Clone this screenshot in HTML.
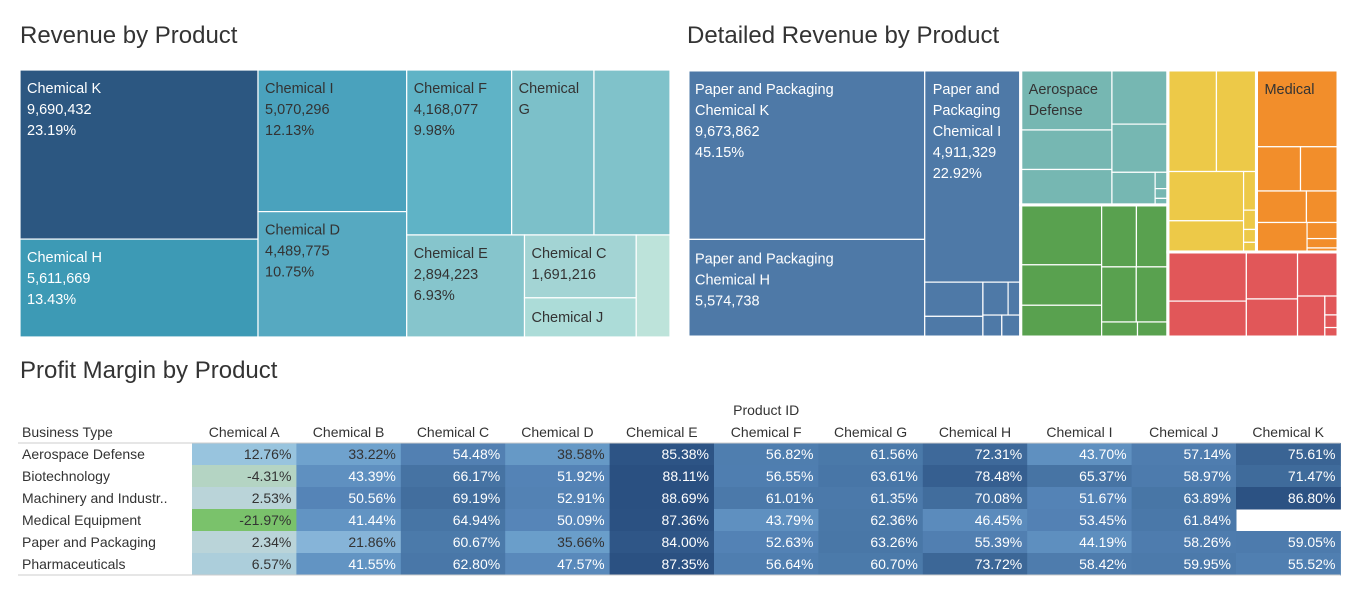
<!DOCTYPE html>
<html><head><meta charset="utf-8">
<style>
body{margin:0;width:1356px;height:608px;background:#fff;font-family:"Liberation Sans",sans-serif;overflow:hidden;position:relative}
.title{position:absolute;font-size:24px;color:#333;}
svg{position:absolute;left:0;top:0}
</style></head><body>
<div class="title" style="left:20px;top:22px">Revenue by Product</div>
<div class="title" style="left:687px;top:22px">Detailed Revenue by Product</div>
<div class="title" style="left:20px;top:357px">Profit Margin by Product</div>
<svg id="chart" width="1356" height="608"></svg>
<script>
// ---- Left treemap data ----
const leftNames=["Chemical K","Chemical H","Chemical I","Chemical D","Chemical F","Chemical G","Chemical B","Chemical E","Chemical C","Chemical J","Chemical A"];
const leftValues=[9690432,5611669,5070296,4489775,4168077,3270000,3020000,2894223,1691216,1054000,830000];
const leftPct=["23.19%","13.43%","12.13%","10.75%","9.98%","","","6.93%","","",""];
const leftColors=["#2c5781","#3d9ab5","#4aa2bd","#56a9c1","#5fb3c6","#7cc0c9","#80c2ca","#86c5cc","#a3d4d4","#acdcd8","#bde3da"];
const leftTree=['h',['v',0,1],['v',2,3],['v',['h',4,5,6],['h',7,['v',8,9],10]]];

// ---- Right treemap data (values in millions) ----
const rightValues=[9.674,5.575,4.911, 0.48,0.29,0.2,0.1,0.1,0.1,
 1.32,0.87,0.78,0.73,0.65,0.34,0.05,0.03,0.02,
 1.17,0.79,0.62,0.52,0.47,0.46,0.42,0.13,0.11,
 1.19,0.98,0.9,0.57,0.12,0.06,0.04,0.03,
 1.51,0.47,0.40,0.38,0.24,0.36,0.12,0.07,0.03,
 0.93,0.68,0.58,0.47,0.43,0.27,0.06,0.04,0.03];
const rightGroupColors={blue:"#4e79a7",teal:"#76b7b2",green:"#59a14f",yellow:"#edc948",orange:"#f28e2b",red:"#e15759"};
const rightGroupOf=[..."bbbbbbbbb"].map(()=> "blue").concat(Array(9).fill("teal"),Array(9).fill("green"),Array(8).fill("yellow"),Array(9).fill("orange"),Array(9).fill("red"));
const blueT=['h',['v',0,1],['v',2,['h',['v',3,4],['v',['h',5,6],['h',7,8]]]]];
const tealT=['h',['v',9,10,11],['v',12,13,['h',14,['v',15,16,17]]]];
const greenT=['h',['v',18,19,20],['v',['h',21,22],['h',23,24],['h',25,26]]];
const yellowT=['v',['h',27,28],['h',['v',29,30],['v',31,32,33,34]]];
const orangeT=['v',35,['h',36,37],['h',38,39],['h',40,['v',41,42,43]]];
const redT=['h',['v',44,45],['v',46,47],['v',48,['h',49,['v',50,51,52]]]];
const rightTree=['h',blueT,['v',tealT,greenT],['v',['h',yellowT,orangeT],redT]];

// ---- Heatmap data ----
const hmCols=["Chemical A","Chemical B","Chemical C","Chemical D","Chemical E","Chemical F","Chemical G","Chemical H","Chemical I","Chemical J","Chemical K"];
const hmRows=["Aerospace Defense","Biotechnology","Machinery and Industr..","Medical Equipment","Paper and Packaging","Pharmaceuticals"];
const hmAero=[12.76,33.22,54.48,38.58,85.38,56.82,61.56,72.31,43.70,57.14,75.61];
const hmBio=[-4.31,43.39,66.17,51.92,88.11,56.55,63.61,78.48,65.37,58.97,71.47];
const hmMach=[2.53,50.56,69.19,52.91,88.69,61.01,61.35,70.08,51.67,63.89,86.80];
const hmMed=[-21.97,41.44,64.94,50.09,87.36,43.79,62.36,46.45,53.45,61.84,null];
const hmPaper=[2.34,21.86,60.67,35.66,84.00,52.63,63.26,55.39,44.19,58.26,59.05];
const hmPharma=[6.57,41.55,62.80,47.57,87.35,56.64,60.70,73.72,58.42,59.95,55.52];
const hmValues=[hmAero,hmBio,hmMach,hmMed,hmPaper,hmPharma];

const NS="http://www.w3.org/2000/svg";
const svg=document.getElementById('chart');
function mk(tag,attrs,parent){const e=document.createElementNS(NS,tag);for(const k in attrs)e.setAttribute(k,attrs[k]);(parent||svg).appendChild(e);return e;}
function sum(node,vals){return typeof node==='number'?vals[node]:node.slice(1).reduce((s,n)=>s+sum(n,vals),0);}
function layout(node,vals,x,y,w,h,out){
  if(typeof node==='number'){out.push({i:node,x,y,w,h});return;}
  const dir=node[0],kids=node.slice(1),tot=sum(node,vals);let off=0;
  kids.forEach(k=>{const f=sum(k,vals)/tot;
    if(dir==='h'){layout(k,vals,x+off,y,w*f,h,out);off+=w*f;}
    else{layout(k,vals,x,y+off,w,h*f,out);off+=h*f;}});
}
function hex(c){return [1,3,5].map(i=>parseInt(c.substr(i,2),16));}
function mix(a,b,t){const A=hex(a),B=hex(b);return 'rgb('+A.map((v,i)=>Math.round(v+(B[i]-v)*t)).join(',')+')';}

// Left treemap
const L=[];layout(leftTree,leftValues,20,70,650,267,L);
L.forEach(r=>{
  const g=mk('g',{});
  
  
  mk('rect',{x:r.x,y:r.y,width:r.w,height:r.h,fill:leftColors[r.i],stroke:'#fff','stroke-width':1.2},g);
  if(r.w>60&&r.h>30){
    const dark=r.i<2;const col=dark?'#fff':'#333';
    let lines;
    if(r.i===5)lines=["Chemical","G"];
    else if(r.i===9)lines=[leftNames[r.i]];
    else if(r.i===6)lines=[];
    else{lines=[leftNames[r.i],leftValues[r.i].toLocaleString('en-US')];if(leftPct[r.i])lines.push(leftPct[r.i]);}
    const y0=(r.i===9)?r.y+24:r.y+23;
    lines.forEach((t,j)=>{const tx=mk('text',{x:r.x+7,y:y0+j*21,fill:col,'font-size':14.5,'font-family':'Liberation Sans, sans-serif'},g);tx.textContent=t;});
  }
});

// Right treemap
const R=[];layout(rightTree,rightValues,688,70,650,267,R);
R.forEach(r=>{
  const el=mk('rect',{x:r.x,y:r.y,width:r.w,height:r.h,fill:rightGroupColors[rightGroupOf[r.i]],stroke:'#fff','stroke-width':1.2});
  
  
});
// group separators
function box(node,x,y,w,h){const o=[];layout(node,rightValues,x,y,w,h,o);const xs=o.map(a=>a.x),ys=o.map(a=>a.y);return {x:Math.min(...xs),y:Math.min(...ys),x2:Math.max(...o.map(a=>a.x+a.w)),y2:Math.max(...o.map(a=>a.y+a.h))};}
[blueT,tealT,greenT,yellowT,orangeT,redT].forEach(t=>{
  const ids=[];(function c(n){if(typeof n==='number')ids.push(n);else n.slice(1).forEach(c);})(t);
  const cells=R.filter(r=>ids.includes(r.i));
  const x=Math.min(...cells.map(a=>a.x)),y=Math.min(...cells.map(a=>a.y)),x2=Math.max(...cells.map(a=>a.x+a.w)),y2=Math.max(...cells.map(a=>a.y+a.h));
  mk('rect',{x,y,width:x2-x,height:y2-y,fill:'none',stroke:'#fff','stroke-width':3});
});
function rtext(lines,x,y,col,name){const g=mk('g',{});
  lines.forEach((t,j)=>{const tx=mk('text',{x,y:y+j*21,fill:col,'font-size':14.5,'font-family':'Liberation Sans, sans-serif'},g);tx.textContent=t;});}
const rc=i=>R.find(r=>r.i===i);
rtext(["Paper and Packaging","Chemical K",rightValues[0]===9.674?"9,673,862":"","45.15%"],rc(0).x+7,rc(0).y+24,'#fff','label-paper-k');
rtext(["Paper and Packaging","Chemical H","5,574,738"],rc(1).x+7,rc(1).y+24,'#fff','label-paper-h');
rtext(["Paper and","Packaging","Chemical I","4,911,329","22.92%"],rc(2).x+8,rc(2).y+24,'#fff','label-paper-i');
rtext(["Aerospace","Defense"],rc(9).x+8,rc(9).y+24,'#333','label-aerospace');
rtext(["Medical"],rc(35).x+8,rc(35).y+24,'#333','label-medical');

// Heatmap
const colX0=192,colW=104.4,rowY0=443,rowH=22;
function hmColor(v){
  if(v<0)return mix('#c2d8d8','#7ac26b',Math.min(1,-v/22));
  const st=[[0,'#c2d8d8'],[12,'#9ac5de'],[22,'#86b4d8'],[35,'#6b9fcb'],[50,'#5685b8'],[65,'#4775a5'],[88,'#2a5081']];
  for(let i=1;i<st.length;i++)if(v<=st[i][0])return mix(st[i-1][1],st[i][1],(v-st[i-1][0])/(st[i][0]-st[i-1][0]));
  return '#2a5081';
}
const ph=mk('text',{x:colX0+5.5*colW,y:415,'text-anchor':'middle','font-size':14,fill:'#333'});ph.textContent='Product ID';

const bt=mk('text',{x:22,y:437,'font-size':14,fill:'#333'});bt.textContent='Business Type';

hmCols.forEach((c,j)=>{const t=mk('text',{x:colX0+(j+0.5)*colW,y:437,'text-anchor':'middle','font-size':14,fill:'#333'});t.textContent=c;
  });
hmRows.forEach((rn,i)=>{
  const y=rowY0+i*rowH;
  const t=mk('text',{x:22,y:y+16,'font-size':14,fill:'#333'});t.textContent=rn;
  
  hmValues[i].forEach((v,j)=>{
    if(v===null)return;
    const x=colX0+j*colW;
    const r=mk('rect',{x,y,width:colW+0.5,height:rowH+0.5,fill:hmColor(v)});
    
    const tx=mk('text',{x:x+colW-5,y:y+16,'text-anchor':'end','font-size':14,fill:v>40?'#fff':'#333'});
    tx.textContent=v.toFixed(2)+'%';
    
  });
});
mk('line',{x1:18,x2:colX0+11*colW,y1:443,y2:443,stroke:'#ccc'});
mk('line',{x1:18,x2:colX0+11*colW,y1:rowY0+6*rowH,y2:rowY0+6*rowH,stroke:'#ccc'});
</script>
</body></html>
